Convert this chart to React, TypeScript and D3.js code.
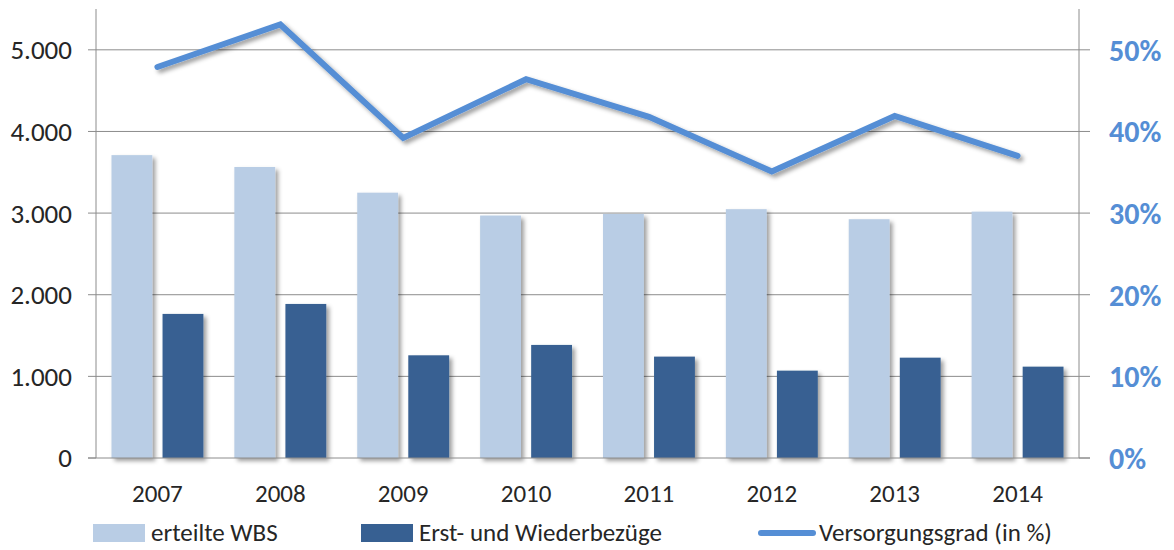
import * as d3 from "d3";

const years = ["2007", "2008", "2009", "2010", "2011", "2012", "2013", "2014"];
const erteilteWBS = [3710, 3565, 3250, 2970, 2990, 3048, 2925, 3018];
const bezuege = [1765, 1887, 1258, 1385, 1242, 1070, 1229, 1119];
const versorgungsgrad = [0.479, 0.531, 0.392, 0.464, 0.418, 0.351, 0.419, 0.37];
const leftTicks = [0, 1000, 2000, 3000, 4000, 5000];
const rightTicks = [0, 0.1, 0.2, 0.3, 0.4, 0.5];
const seriesNames = ["erteilte WBS", "Erst- und Wiederbezüge", "Versorgungsgrad (in %)"];

const W = 1174;
const H = 550;
const margin = { top: 9, right: 95, bottom: 92, left: 96 };
const FONT = "Carlito, Calibri, Lato, 'Open Sans', sans-serif";
const LIGHT = "#b9cde5";
const DARK = "#376092";
const LINE = "#558ed5";
const GRID = "#8c8c8c";

export default function App() {
  const innerW = W - margin.left - margin.right;
  const innerH = H - margin.top - margin.bottom;

  const x0 = d3.scaleBand().domain(years).range([0, innerW]);
  const bw = x0.bandwidth();
  const x1 = d3
    .scaleBand()
    .domain(["a", "b"])
    .range([bw * 0.126, bw * 0.874])
    .paddingInner(0.2);
  const yLeft = d3.scaleLinear().domain([0, 5500]).range([innerH, 0]);
  const yRight = d3.scaleLinear().domain([0, 0.55]).range([innerH, 0]);

  const line = d3
    .line<number>()
    .x((_, i) => (x0(years[i]) ?? 0) + bw / 2)
    .y((d) => yRight(d));

  const fmtLeft = (v: number) => d3.format(",")(v).replace(/,/g, ".");
  const fmtRight = d3.format(".0%");

  // legend positions
  const legend = [
    { x: 93, kind: "rect", color: LIGHT },
    { x: 361, kind: "rect", color: DARK },
    { x: 761, kind: "line", color: LINE },
  ];

  return (
    <div style={{ position: "absolute", left: 0, top: 0 }}>
      <svg width={W} height={H} style={{ display: "block", background: "#fff" }}>
        <defs>
          <filter id="shadow" x="-20%" y="-20%" width="150%" height="150%">
            <feDropShadow dx="3" dy="3" stdDeviation="2.2" floodColor="#000" floodOpacity="0.38" />
          </filter>
        </defs>
        <g transform={`translate(${margin.left},${margin.top})`}>
          {/* gridlines */}
          {leftTicks.slice(1).map((t) => (
            <line key={t} x1={0} x2={innerW} y1={yLeft(t)} y2={yLeft(t)} stroke={GRID} strokeWidth={1} />
          ))}
          {/* left axis */}
          <line x1={0} x2={0} y1={0} y2={innerH} stroke={GRID} strokeWidth={1} />
          {leftTicks.map((t) => (
            <g key={t}>
              <line x1={-8} x2={0} y1={yLeft(t)} y2={yLeft(t)} stroke={GRID} />
              <text
                x={-24}
                y={yLeft(t)}
                dy="0.35em"
                textAnchor="end"
                fontFamily={FONT}
                fontSize={27}
                fill="#262626"
              >
                {fmtLeft(t)}
              </text>
            </g>
          ))}
          {/* right axis */}
          <line x1={innerW} x2={innerW} y1={0} y2={innerH} stroke={GRID} strokeWidth={1} />
          {rightTicks.map((t) => (
            <g key={t}>
              <line x1={innerW} x2={innerW + 11} y1={yRight(t)} y2={yRight(t)} stroke={GRID} />
              <text
                x={innerW + 30}
                y={yRight(t)}
                dy="0.36em"
                textAnchor="start"
                fontFamily={FONT}
                fontSize={30}
                fontWeight="bold"
                fill={LINE}
              >
                {fmtRight(t)}
              </text>
            </g>
          ))}
          {/* bars */}
          {years.map((yr, i) => (
            <g key={yr} transform={`translate(${x0(yr)},0)`}>
              <rect
                x={x1("a")}
                y={yLeft(erteilteWBS[i])}
                width={x1.bandwidth()}
                height={innerH - yLeft(erteilteWBS[i])}
                fill={LIGHT}
                filter="url(#shadow)"
              />
              <rect
                x={x1("b")}
                y={yLeft(bezuege[i])}
                width={x1.bandwidth()}
                height={innerH - yLeft(bezuege[i])}
                fill={DARK}
                filter="url(#shadow)"
              />
            </g>
          ))}
          {/* x axis */}
          <line x1={-8} x2={innerW + 11} y1={innerH} y2={innerH} stroke={GRID} strokeWidth={1} />
          {years.map((yr) => (
            <text
              key={yr}
              x={(x0(yr) ?? 0) + bw / 2}
              y={innerH + 35}
              textAnchor="middle"
              dy="0.35em"
              fontFamily={FONT}
              fontSize={25}
              fill="#262626"
            >
              {yr}
            </text>
          ))}
          {/* line */}
          <path
            d={line(versorgungsgrad) ?? ""}
            fill="none"
            stroke={LINE}
            strokeWidth={6}
            strokeLinejoin="miter"
            strokeLinecap="round"
            filter="url(#shadow)"
          />
        </g>
        {/* legend */}
        <g transform="translate(0,533)">
          {legend.map((l, i) => (
            <g key={i} transform={`translate(${l.x},0)`}>
              {l.kind === "rect" ? (
                <rect x={0} y={-9} width={52} height={18} fill={l.color} />
              ) : (
                <line x1={0} x2={52} y1={0} y2={0} stroke={l.color} strokeWidth={6} strokeLinecap="round" />
              )}
              <text x={58} y={-1} dy="0.35em" fontFamily={FONT} fontSize={25} fill="#262626">
                {seriesNames[i]}
              </text>
            </g>
          ))}
        </g>
      </svg>
    </div>
  );
}
